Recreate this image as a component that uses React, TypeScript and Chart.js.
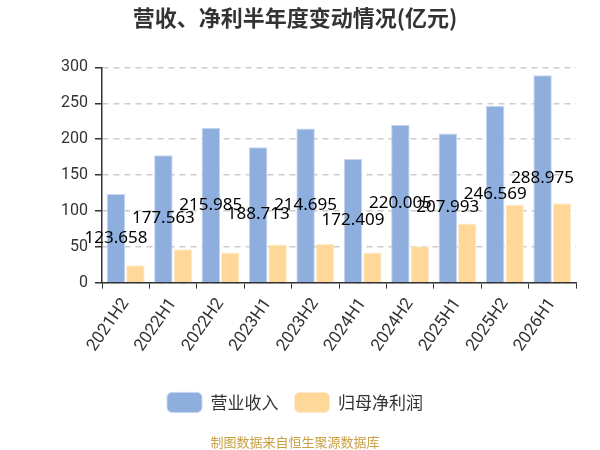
import React, { useRef, useEffect } from "react";
import Chart from "chart.js/auto";

const periods = [
  "2021H2", "2022H1", "2022H2", "2023H1", "2023H2",
  "2024H1", "2024H2", "2025H1", "2025H2", "2026H1",
];
const revenue = [123.658, 177.563, 215.985, 188.713, 214.695, 172.409, 220.005, 207.993, 246.569, 288.975];
const netProfit = [24.1, 46.5, 41.9, 53.0, 53.9, 41.9, 50.6, 82.3, 108.8, 110.6];
const yTicks = [0, 50, 100, 150, 200, 250, 300];

// draws the revenue value in the middle of each blue bar
const barLabels = {
  id: "barLabels",
  afterDatasetsDraw(chart: Chart) {
    const ctx = chart.ctx;
    const meta = chart.getDatasetMeta(0);
    ctx.save();
    ctx.font = "17px 'Noto Sans'";
    ctx.fillStyle = "#000";
    ctx.textAlign = "center";
    ctx.textBaseline = "middle";
    meta.data.forEach((bar: any, i: number) => {
      const y = (bar.y + bar.base) / 2;
      ctx.fillText(String(revenue[i]), bar.x, y);
    });
    ctx.restore();
  },
};

export default function App() {
  const chartRef = useRef<HTMLCanvasElement | null>(null);
  const chartInstanceRef = useRef<Chart | null>(null);

  useEffect(() => {
    document.body.style.margin = "0";
    if (!chartRef.current) return;
    const ctx = chartRef.current.getContext("2d");
    if (!ctx) return;
    if (chartInstanceRef.current) chartInstanceRef.current.destroy();

    chartInstanceRef.current = new Chart(ctx, {
      type: "bar",
      data: {
        labels: periods,
        datasets: [
          {
            label: "营业收入",
            data: revenue,
            backgroundColor: "#8eaedd",
            borderColor: "#c5d6ee",
            borderWidth: 1,
            categoryPercentage: 0.82,
            barPercentage: 0.95,
          },
          {
            label: "归母净利润",
            data: netProfit,
            backgroundColor: "#ffd899",
            borderColor: "#ffeccc",
            borderWidth: 1,
            categoryPercentage: 0.82,
            barPercentage: 0.95,
          },
        ],
      },
      options: {
        responsive: false,
        animation: false,
        devicePixelRatio: 1,
        layout: { padding: { left: 14, right: 24, top: 0, bottom: 0 } },
        scales: {
          x: {
            afterFit: (scale: any) => {
              scale.height += 15;
            },
            grid: {
              drawOnChartArea: false,
              drawTicks: true,
              tickLength: 6,
              tickColor: "#333",
              offset: true,
            },
            border: { display: true, color: "#333", width: 1.5 },
            ticks: {
              color: "#333",
              font: { family: "Roboto", size: 17 },
              minRotation: 55,
              maxRotation: 55,
              padding: 6,
            },
          },
          y: {
            min: 0,
            max: 300,
            afterBuildTicks: (axis: any) => {
              axis.ticks = yTicks.map((v) => ({ value: v }));
            },
            afterFit: (scale: any) => {
              scale.width = 88;
            },
            grid: {
              color: "#cccccc",
              lineWidth: 1.5,
              tickLength: 7,
              tickColor: "#333",
              drawTicks: true,
            },
            border: { display: true, color: "#333", width: 1.5, dash: [6, 5] },
            ticks: {
              color: "#333",
              font: { family: "Roboto", size: 16 },
              padding: 7,
            },
          },
        },
        plugins: {
          title: {
            display: true,
            text: "营收、净利半年度变动情况(亿元)",
            color: "#333",
            font: { family: "'Noto Sans CJK SC'", size: 22, weight: "bold" },
            padding: { top: 4, bottom: 37 },
          },
          subtitle: {
            display: true,
            position: "bottom",
            text: "制图数据来自恒生聚源数据库",
            color: "#c9a045",
            font: { family: "'Noto Sans CJK SC'", size: 13 },
            padding: { top: 12, bottom: 0 },
          },
          legend: {
            position: "bottom",
            labels: {
              color: "#333",
              font: { family: "'Noto Sans CJK SC'", size: 17 },
              boxWidth: 35,
              boxHeight: 20,
              useBorderRadius: true,
              borderRadius: 5,
              padding: 16,
            },
          },
          tooltip: { enabled: false },
        },
      } as any,
      plugins: [barLabels],
    });

    return () => {
      if (chartInstanceRef.current) {
        chartInstanceRef.current.destroy();
        chartInstanceRef.current = null;
      }
    };
  }, []);

  return (
    <div style={{ width: 600, height: 450 }}>
      <canvas ref={chartRef} width={600} height={450} />
    </div>
  );
}
